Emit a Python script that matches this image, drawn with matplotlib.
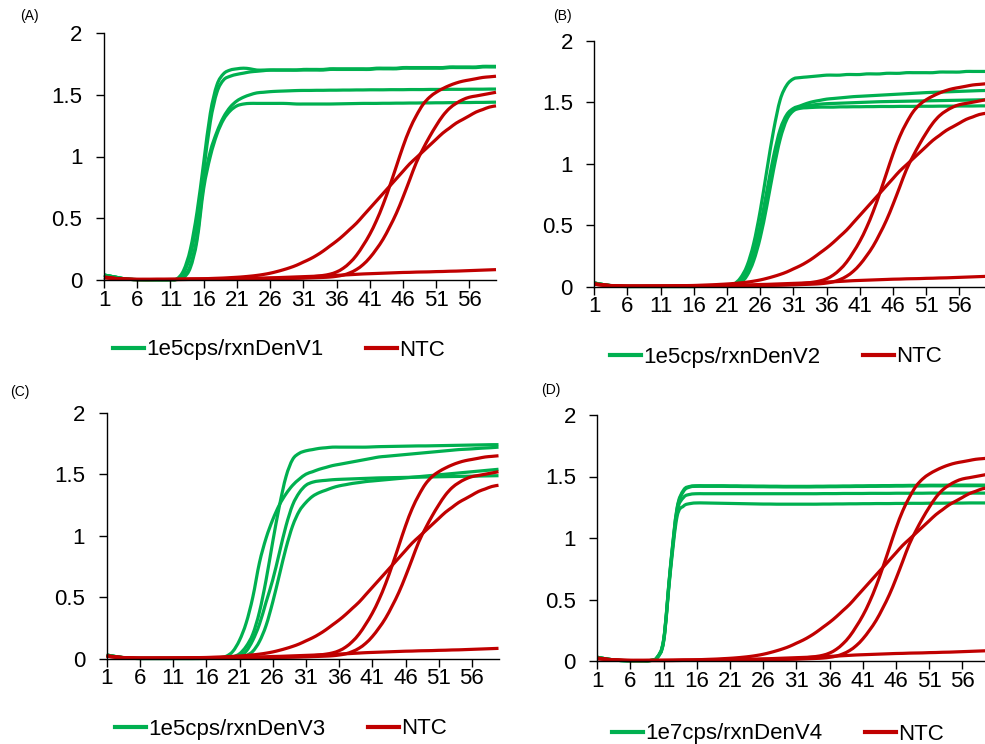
import matplotlib
matplotlib.use("Agg")
import matplotlib.pyplot as plt
from matplotlib.lines import Line2D
from matplotlib.path import Path
from matplotlib.patches import PathPatch

plt.rcParams['font.family'] = ['Liberation Sans', 'DejaVu Sans']

cycles = list(range(1, 61))
x_tick_cycles = [1, 6, 11, 16, 21, 26, 31, 36, 41, 46, 51, 56]
x_tick_labels = ["1", "6", "11", "16", "21", "26", "31", "36", "41", "46", "51", "56"]
y_ticks = [0, 0.5, 1, 1.5, 2]
y_tick_labels = ["0", "0.5", "1", "1.5", "2"]

panel_tags = ["(A)", "(B)", "(C)", "(D)"]
sample_labels = ["1e5cps/rxnDenV1", "1e5cps/rxnDenV2", "1e5cps/rxnDenV3", "1e7cps/rxnDenV4"]
ntc_label = "NTC"

# No-template controls (same four wells shown on every panel)
ntc_steep = [0.02, 0.015, 0.01, 0.007, 0.005, 0.004, 0.004, 0.004, 0.004, 0.004,
             0.004, 0.004, 0.005, 0.005, 0.005, 0.005, 0.006, 0.006, 0.006, 0.007,
             0.007, 0.008, 0.008, 0.009, 0.01, 0.011, 0.012, 0.013, 0.015, 0.017,
             0.02, 0.024, 0.03, 0.037, 0.047, 0.065, 0.095, 0.14, 0.2, 0.28,
             0.37, 0.48, 0.61, 0.76, 0.92, 1.08, 1.22, 1.33, 1.42, 1.48,
             1.52, 1.55, 1.575, 1.595, 1.61, 1.62, 1.63, 1.64, 1.645, 1.65]
ntc_late = [0.02, 0.015, 0.01, 0.007, 0.005, 0.004, 0.004, 0.004, 0.004, 0.004,
            0.004, 0.004, 0.004, 0.005, 0.005, 0.005, 0.005, 0.006, 0.006, 0.006,
            0.007, 0.007, 0.008, 0.008, 0.009, 0.01, 0.011, 0.012, 0.013, 0.014,
            0.015, 0.017, 0.019, 0.021, 0.024, 0.03, 0.04, 0.058, 0.085, 0.125,
            0.18, 0.25, 0.33, 0.43, 0.54, 0.67, 0.81, 0.95, 1.06, 1.16,
            1.25, 1.33, 1.39, 1.43, 1.46, 1.48, 1.49, 1.5, 1.51, 1.52]
ntc_slow = [0.025, 0.018, 0.012, 0.008, 0.006, 0.005, 0.005, 0.005, 0.005, 0.005,
            0.006, 0.006, 0.007, 0.008, 0.009, 0.01, 0.012, 0.014, 0.016, 0.019,
            0.022, 0.026, 0.031, 0.037, 0.045, 0.055, 0.068, 0.083, 0.1, 0.12,
            0.145, 0.17, 0.2, 0.235, 0.275, 0.315, 0.36, 0.41, 0.46, 0.52,
            0.58, 0.64, 0.7, 0.76, 0.82, 0.88, 0.94, 0.99, 1.04, 1.09,
            1.14, 1.19, 1.23, 1.27, 1.3, 1.33, 1.36, 1.38, 1.4, 1.41]
ntc_flat = [0.02, 0.015, 0.01, 0.007, 0.005, 0.004, 0.004, 0.004, 0.005, 0.005,
            0.005, 0.006, 0.006, 0.007, 0.007, 0.008, 0.008, 0.009, 0.01, 0.011,
            0.012, 0.013, 0.014, 0.015, 0.016, 0.018, 0.019, 0.021, 0.023, 0.025,
            0.027, 0.029, 0.031, 0.033, 0.035, 0.038, 0.04, 0.043, 0.046, 0.049,
            0.051, 0.053, 0.055, 0.057, 0.059, 0.061, 0.062, 0.064, 0.065, 0.066,
            0.068, 0.069, 0.071, 0.072, 0.074, 0.076, 0.078, 0.08, 0.082, 0.084]

# DenV1, 1e5 copies/reaction
denv1_a = [0.04, 0.03, 0.02, 0.01, 0.005, 0.003, 0.002, 0.002, 0.002, 0.002,
           0.003, 0.01, 0.08, 0.25, 0.55, 0.95, 1.35, 1.58, 1.67, 1.70,
           1.71, 1.715, 1.71, 1.70, 1.70, 1.70, 1.70, 1.70, 1.70, 1.70,
           1.705, 1.705, 1.705, 1.705, 1.71, 1.71, 1.71, 1.71, 1.71, 1.71,
           1.71, 1.715, 1.715, 1.715, 1.715, 1.72, 1.72, 1.72, 1.72, 1.72,
           1.72, 1.72, 1.725, 1.725, 1.725, 1.725, 1.725, 1.73, 1.73, 1.73]
denv1_b = [0.04, 0.03, 0.02, 0.01, 0.005, 0.003, 0.002, 0.002, 0.002, 0.002,
           0.003, 0.008, 0.06, 0.2, 0.48, 0.88, 1.28, 1.52, 1.62, 1.65,
           1.665, 1.675, 1.685, 1.69, 1.695, 1.70, 1.70, 1.70, 1.70, 1.70,
           1.70, 1.70, 1.70, 1.70, 1.705, 1.705, 1.705, 1.705, 1.705, 1.705,
           1.705, 1.71, 1.71, 1.71, 1.71, 1.715, 1.715, 1.715, 1.715, 1.715,
           1.715, 1.715, 1.72, 1.72, 1.72, 1.72, 1.72, 1.725, 1.725, 1.725]
denv1_c = [0.04, 0.03, 0.02, 0.01, 0.005, 0.003, 0.002, 0.002, 0.002, 0.002,
           0.002, 0.005, 0.03, 0.12, 0.35, 0.78, 1.04, 1.2, 1.32, 1.40,
           1.45, 1.48, 1.50, 1.515, 1.52, 1.525, 1.528, 1.53, 1.532, 1.534,
           1.535, 1.535, 1.536, 1.536, 1.537, 1.537, 1.538, 1.538, 1.539, 1.539,
           1.54, 1.54, 1.54, 1.541, 1.541, 1.541, 1.542, 1.542, 1.542, 1.543,
           1.543, 1.543, 1.544, 1.544, 1.544, 1.545, 1.545, 1.545, 1.546, 1.546]
denv1_d = [0.04, 0.03, 0.02, 0.01, 0.005, 0.003, 0.002, 0.002, 0.002, 0.002,
           0.002, 0.004, 0.02, 0.10, 0.32, 0.74, 1.0, 1.18, 1.30, 1.37,
           1.41, 1.425, 1.43, 1.43, 1.43, 1.43, 1.43, 1.43, 1.428, 1.425,
           1.425, 1.425, 1.425, 1.425, 1.425, 1.426, 1.427, 1.428, 1.429, 1.43,
           1.43, 1.43, 1.431, 1.431, 1.432, 1.432, 1.433, 1.433, 1.434, 1.434,
           1.435, 1.435, 1.436, 1.436, 1.437, 1.437, 1.438, 1.438, 1.439, 1.44]

# DenV2, 1e5 copies/reaction
denv2_a = [0.03, 0.02, 0.012, 0.006, 0.003, 0.002, 0.002, 0.002, 0.002, 0.002,
           0.002, 0.002, 0.002, 0.002, 0.002, 0.002, 0.003, 0.003, 0.003, 0.003,
           0.004, 0.02, 0.07, 0.17, 0.35, 0.62, 0.95, 1.27, 1.52, 1.64,
           1.69, 1.70, 1.705, 1.71, 1.715, 1.72, 1.72, 1.72, 1.725, 1.725,
           1.725, 1.73, 1.73, 1.73, 1.735, 1.735, 1.735, 1.74, 1.74, 1.74,
           1.74, 1.74, 1.745, 1.745, 1.745, 1.745, 1.75, 1.75, 1.75, 1.75]
denv2_b = [0.03, 0.02, 0.012, 0.006, 0.003, 0.002, 0.002, 0.002, 0.002, 0.002,
           0.002, 0.002, 0.002, 0.002, 0.002, 0.002, 0.003, 0.003, 0.003, 0.003,
           0.003, 0.012, 0.05, 0.13, 0.28, 0.50, 0.78, 1.06, 1.28, 1.40,
           1.45, 1.47, 1.49, 1.505, 1.515, 1.525, 1.53, 1.535, 1.54, 1.545,
           1.548, 1.551, 1.554, 1.557, 1.56, 1.563, 1.566, 1.569, 1.572, 1.575,
           1.578, 1.58, 1.582, 1.584, 1.586, 1.588, 1.59, 1.592, 1.594, 1.595]
denv2_c = [0.03, 0.02, 0.012, 0.006, 0.003, 0.002, 0.002, 0.002, 0.002, 0.002,
           0.002, 0.002, 0.002, 0.002, 0.002, 0.002, 0.003, 0.003, 0.003, 0.003,
           0.003, 0.01, 0.04, 0.11, 0.24, 0.45, 0.72, 1.0, 1.24, 1.38,
           1.44, 1.46, 1.47, 1.478, 1.484, 1.488, 1.49, 1.492, 1.494, 1.496,
           1.498, 1.5, 1.502, 1.504, 1.505, 1.506, 1.507, 1.508, 1.509, 1.51,
           1.511, 1.512, 1.513, 1.514, 1.515, 1.516, 1.517, 1.518, 1.519, 1.52]
denv2_d = [0.03, 0.02, 0.012, 0.006, 0.003, 0.002, 0.002, 0.002, 0.002, 0.002,
           0.002, 0.002, 0.002, 0.002, 0.002, 0.002, 0.003, 0.003, 0.003, 0.003,
           0.003, 0.008, 0.03, 0.09, 0.21, 0.40, 0.66, 0.95, 1.2, 1.36,
           1.43, 1.45, 1.455, 1.458, 1.46, 1.46, 1.46, 1.462, 1.462, 1.463,
           1.463, 1.464, 1.464, 1.465, 1.465, 1.465, 1.466, 1.466, 1.466, 1.467,
           1.467, 1.467, 1.468, 1.468, 1.468, 1.469, 1.469, 1.469, 1.47, 1.47]

# DenV3, 1e5 copies/reaction
denv3_a = [0.03, 0.02, 0.012, 0.006, 0.003, 0.002, 0.002, 0.002, 0.002, 0.002,
           0.002, 0.002, 0.002, 0.002, 0.003, 0.003, 0.004, 0.008, 0.02, 0.06,
           0.15, 0.29, 0.5, 0.78, 0.98, 1.13, 1.25, 1.34, 1.41, 1.46,
           1.5, 1.52, 1.54, 1.555, 1.57, 1.58, 1.59, 1.6, 1.61, 1.62,
           1.63, 1.64, 1.645, 1.65, 1.655, 1.66, 1.665, 1.67, 1.675, 1.68,
           1.685, 1.69, 1.695, 1.7, 1.703, 1.706, 1.71, 1.713, 1.716, 1.72]
denv3_b = [0.03, 0.02, 0.012, 0.006, 0.003, 0.002, 0.002, 0.002, 0.002, 0.002,
           0.002, 0.002, 0.002, 0.002, 0.002, 0.003, 0.003, 0.004, 0.006, 0.015,
           0.04, 0.1, 0.2, 0.38, 0.64, 0.95, 1.24, 1.48, 1.62, 1.67,
           1.69, 1.70, 1.71, 1.715, 1.72, 1.72, 1.72, 1.72, 1.72, 1.72,
           1.722, 1.724, 1.725, 1.726, 1.727, 1.728, 1.729, 1.73, 1.73, 1.731,
           1.732, 1.733, 1.734, 1.735, 1.736, 1.737, 1.738, 1.739, 1.74, 1.74]
denv3_c = [0.03, 0.02, 0.012, 0.006, 0.003, 0.002, 0.002, 0.002, 0.002, 0.002,
           0.002, 0.002, 0.002, 0.002, 0.002, 0.003, 0.003, 0.004, 0.005, 0.008,
           0.02, 0.06, 0.15, 0.28, 0.46, 0.64, 0.86, 1.08, 1.25, 1.35,
           1.41, 1.435, 1.445, 1.45, 1.455, 1.458, 1.46, 1.462, 1.464, 1.466,
           1.468, 1.47, 1.471, 1.472, 1.473, 1.474, 1.475, 1.476, 1.477, 1.478,
           1.479, 1.48, 1.481, 1.482, 1.483, 1.484, 1.485, 1.486, 1.487, 1.488]
denv3_d = [0.03, 0.02, 0.012, 0.006, 0.003, 0.002, 0.002, 0.002, 0.002, 0.002,
           0.002, 0.002, 0.002, 0.002, 0.002, 0.002, 0.003, 0.003, 0.004, 0.006,
           0.01, 0.025, 0.06, 0.14, 0.27, 0.46, 0.68, 0.9, 1.08, 1.2,
           1.27, 1.32, 1.35, 1.37, 1.39, 1.405, 1.415, 1.425, 1.432, 1.44,
           1.445, 1.45, 1.455, 1.46, 1.465, 1.47, 1.475, 1.48, 1.485, 1.49,
           1.495, 1.5, 1.505, 1.51, 1.515, 1.52, 1.525, 1.53, 1.535, 1.54]

# DenV4, 1e7 copies/reaction
denv4_a = [0.03, 0.02, 0.012, 0.006, 0.003, 0.002, 0.002, 0.002, 0.004, 0.03,
           0.18, 0.76, 1.24, 1.39, 1.42, 1.425, 1.425, 1.425, 1.425, 1.425,
           1.424, 1.424, 1.423, 1.423, 1.422, 1.422, 1.421, 1.421, 1.42, 1.42,
           1.42, 1.42, 1.42, 1.421, 1.421, 1.422, 1.422, 1.423, 1.423, 1.424,
           1.424, 1.425, 1.425, 1.426, 1.426, 1.427, 1.427, 1.428, 1.428, 1.428,
           1.429, 1.429, 1.429, 1.43, 1.43, 1.43, 1.43, 1.43, 1.43, 1.43]
denv4_b = [0.03, 0.02, 0.012, 0.006, 0.003, 0.002, 0.002, 0.002, 0.004, 0.028,
           0.17, 0.75, 1.23, 1.38, 1.415, 1.42, 1.42, 1.42, 1.42, 1.42,
           1.419, 1.419, 1.418, 1.418, 1.417, 1.417, 1.416, 1.416, 1.415, 1.415,
           1.415, 1.415, 1.415, 1.416, 1.416, 1.417, 1.417, 1.418, 1.418, 1.419,
           1.419, 1.42, 1.42, 1.421, 1.421, 1.422, 1.422, 1.423, 1.423, 1.423,
           1.424, 1.424, 1.424, 1.425, 1.425, 1.425, 1.425, 1.425, 1.425, 1.425]
denv4_c = [0.03, 0.02, 0.012, 0.006, 0.003, 0.002, 0.002, 0.002, 0.004, 0.027,
           0.17, 0.74, 1.21, 1.33, 1.355, 1.36, 1.36, 1.36, 1.36, 1.36,
           1.36, 1.36, 1.36, 1.36, 1.36, 1.36, 1.36, 1.36, 1.36, 1.36,
           1.36, 1.36, 1.36, 1.36, 1.361, 1.361, 1.361, 1.362, 1.362, 1.362,
           1.362, 1.363, 1.363, 1.363, 1.363, 1.364, 1.364, 1.364, 1.364, 1.364,
           1.365, 1.365, 1.365, 1.365, 1.365, 1.365, 1.365, 1.365, 1.365, 1.365]
denv4_d = [0.03, 0.02, 0.012, 0.006, 0.003, 0.002, 0.002, 0.002, 0.004, 0.025,
           0.16, 0.72, 1.17, 1.26, 1.28, 1.285, 1.285, 1.284, 1.283, 1.282,
           1.281, 1.28, 1.279, 1.278, 1.277, 1.276, 1.276, 1.275, 1.275, 1.275,
           1.275, 1.275, 1.275, 1.275, 1.276, 1.276, 1.277, 1.277, 1.278, 1.278,
           1.279, 1.279, 1.28, 1.28, 1.28, 1.281, 1.281, 1.282, 1.282, 1.282,
           1.283, 1.283, 1.283, 1.284, 1.284, 1.284, 1.285, 1.285, 1.285, 1.285]

sample_sets = [
    [denv1_a, denv1_b, denv1_c, denv1_d],
    [denv2_a, denv2_b, denv2_c, denv2_d],
    [denv3_a, denv3_b, denv3_c, denv3_d],
    [denv4_a, denv4_b, denv4_c, denv4_d],
]
ntc_set = [ntc_steep, ntc_late, ntc_slow, ntc_flat]

GREEN = "#00B050"
RED = "#C00000"
LW = 2.3


def smoothed_curve(ax, xs, ys, color):
    """Draw a smoothed line (cubic Bezier through every point, like a
    spreadsheet 'smoothed line' series) in data coordinates."""
    n = len(xs)
    verts = [(xs[0], ys[0])]
    codes = [Path.MOVETO]
    for i in range(n - 1):
        i0 = max(i - 1, 0)
        i3 = min(i + 2, n - 1)
        c1 = (xs[i] + (xs[i + 1] - xs[i0]) / 6.0, ys[i] + (ys[i + 1] - ys[i0]) / 6.0)
        c2 = (xs[i + 1] - (xs[i3] - xs[i]) / 6.0, ys[i + 1] - (ys[i3] - ys[i]) / 6.0)
        verts += [c1, c2, (xs[i + 1], ys[i + 1])]
        codes += [Path.CURVE4] * 3
    patch = PathPatch(Path(verts, codes), facecolor="none", edgecolor=color,
                      lw=LW, transform=ax.transData, clip_on=False,
                      joinstyle="round", capstyle="butt")
    ax.add_patch(patch)


W, H = 985, 744
fig = plt.figure(figsize=(W / 100, H / 100), dpi=100)
fig.patch.set_facecolor("white")

# panel geometry in pixels: left, right, top (y=2), bottom (y=0)
boxes = [
    (104.0, 496.0, 33.0, 280.0),
    (594.3, 986.0, 40.7, 286.7),
    (106.7, 498.5, 412.7, 658.7),
    (597.3, 989.0, 415.0, 661.0),
]
tag_pos = [(29, 16), (562, 16), (20, 392), (551, 390)]
legend_pos = [(279, 350), (776, 357), (281, 729), (778, 734)]

for i, (l, r, t, b) in enumerate(boxes):
    ax = fig.add_axes([l / W, 1 - b / H, (r - l) / W, (b - t) / H])
    for series in sample_sets[i]:
        smoothed_curve(ax, cycles, series, GREEN)
    for series in ntc_set:
        smoothed_curve(ax, cycles, series, RED)
    ax.set_xlim(1, 60)
    ax.set_ylim(0, 2)
    ax.set_xticks(x_tick_cycles)
    ax.set_xticklabels(x_tick_labels)
    ax.set_yticks(y_ticks)
    ax.set_yticklabels(y_tick_labels)
    for side in ("top", "right"):
        ax.spines[side].set_visible(False)
    for side in ("left", "bottom"):
        ax.spines[side].set_linewidth(1.0)
        ax.spines[side].set_color("black")
    ax.tick_params(axis="both", direction="out", length=5.5, width=1.0,
                   labelsize=16, colors="black")
    ax.tick_params(axis="x", pad=1.5)
    ax.tick_params(axis="y", pad=10)
    ax.set_facecolor("none")

    fig.text(tag_pos[i][0] / W, 1 - tag_pos[i][1] / H, panel_tags[i],
             fontsize=10, ha="center", va="center")

    handles = [Line2D([], [], color=GREEN, lw=3),
               Line2D([], [], color=RED, lw=3)]
    fig.legend(handles, [sample_labels[i], ntc_label], loc="center",
               bbox_to_anchor=(legend_pos[i][0] / W, 1 - legend_pos[i][1] / H),
               ncol=2, frameon=False, fontsize=16, handlelength=1.4,
               handletextpad=0.1, columnspacing=1.9, borderpad=0.0)

fig.savefig("out.png", dpi=100, facecolor="white")
